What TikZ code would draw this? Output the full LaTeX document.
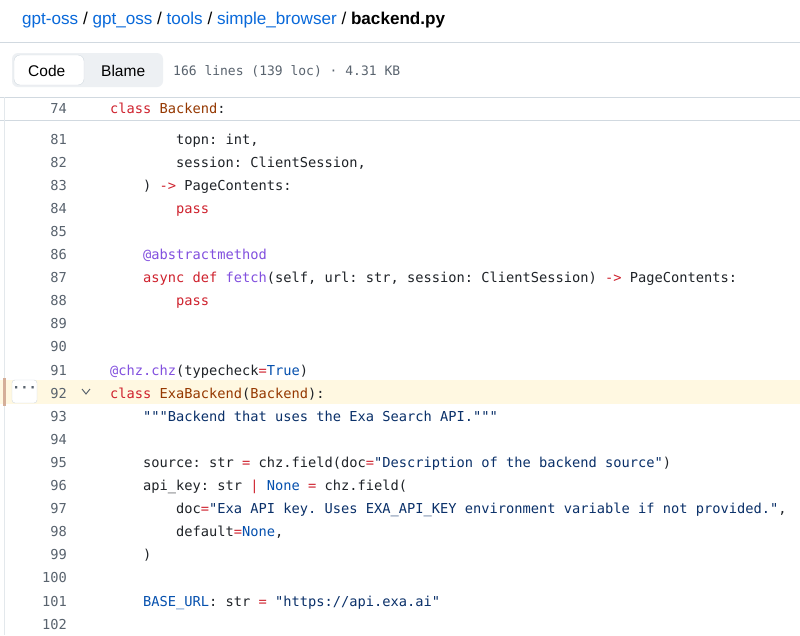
\documentclass[tikz,border=0pt]{standalone}
\usepackage{fontspec}
\setmainfont{Liberation Sans}
\setmonofont{DejaVu Sans Mono}
\usetikzlibrary{positioning}
\definecolor{kw}{HTML}{CF222E}
\definecolor{ent}{HTML}{953800}
\definecolor{fn}{HTML}{8250DF}
\definecolor{strc}{HTML}{0A3069}
\definecolor{cst}{HTML}{0550AE}
\definecolor{txt}{HTML}{1F2328}
\definecolor{lnum}{HTML}{59636E}
\definecolor{link}{HTML}{0969DA}
\definecolor{hl}{HTML}{FFF8E1}
\definecolor{rule}{HTML}{D1D9E0}
\newcommand{\K}[1]{\textcolor{kw}{#1}}
\newcommand{\E}[1]{\textcolor{ent}{#1}}
\newcommand{\F}[1]{\textcolor{fn}{#1}}
\newcommand{\Sq}[1]{\textcolor{strc}{#1}}
\newcommand{\C}[1]{\textcolor{cst}{#1}}
\tikzset{
  num/.style={anchor=base east,text=lnum,font=\fontsize{13.7}{15}\ttfamily,inner sep=0pt},
  code/.style={anchor=base west,text=txt,font=\fontsize{13.7}{15}\ttfamily,inner sep=0pt},
  crumb/.style={anchor=base west,inner sep=0pt,font=\fontsize{17.1}{19}\selectfont}
}
\begin{document}
\begin{tikzpicture}[x=1pt,y=-1pt]
\useasboundingbox (0,0) rectangle (800,635);
\fill[white] (0,0) rectangle (800,635);
% header
\node[crumb] (path) at (22,24) {\textcolor{link}{gpt-oss} / \textcolor{link}{gpt\_oss} / \textcolor{link}{tools} / \textcolor{link}{simple\_browser} / \textbf{backend.py}};
\draw[rule] (0,42) -- (800,42);
\fill[rule!40,rounded corners=6pt] (12,53) rectangle (163,87);
\draw[rule,fill=white,rounded corners=6pt] (14,55) rectangle (84,85);
\node[crumb,font=\fontsize{15.5}{17}\selectfont] (code) at (28,76) {Code};
\node[crumb,font=\fontsize{15.5}{17}\selectfont] (blame) at (101,76) {Blame};
\node[code,text=lnum,font=\fontsize{13}{15}\ttfamily] (info) at (173,75) {166 lines (139 loc) · 4.31 KB};
\draw[rule] (0,97) -- (800,97);
\draw[rule] (0,120) -- (800,120);
\draw[rule!60] (4,97) -- (4,635);
% highlighted line
\fill[hl] (0,380) rectangle (800,404);
\fill[ent!40] (3,378) rectangle (6,406);
\draw[rule,fill=white,rounded corners=3pt] (12,380) rectangle (37,403);
\node[code,text=lnum,anchor=center] (dots) at (24.5,389) {\bfseries ···};
\draw[lnum,line width=1pt] (82,389) -- (86,394) -- (90,389);
% line numbers
\node[num] (n74) at (67,113) {74};
\foreach \n [count=\i from 0] in {81,...,102}
  \node[num] (n\n) at (67,144+23.1*\i) {\n};
% code
\node[code] (c74) at (110,113) {\K{class} \E{Backend}:};
\node[code] (c81) at (176,144) {topn: int,};
\node[code] (c82) at (176,167.1) {session: ClientSession,};
\node[code] (c83) at (143,190.2) {) \K{->} PageContents:};
\node[code] (c84) at (176,213.3) {\K{pass}};
\node[code] (c86) at (143,259.5) {\F{@abstractmethod}};
\node[code] (c87) at (143,282.6) {\K{async def} \F{fetch}(self, url: str, session: ClientSession) \K{->} PageContents:};
\node[code] (c88) at (176,305.7) {\K{pass}};
\node[code] (c91) at (110,375) {\F{@chz.chz}(typecheck\K{=}\C{True})};
\node[code] (c92) at (110,398.1) {\K{class} \E{ExaBackend}(\E{Backend}):};
\node[code] (c93) at (143,421.2) {\Sq{"""Backend that uses the Exa Search API."""}};
\node[code] (c95) at (143,467.4) {source: str \K{=} chz.field(doc\K{=}\Sq{"Description of the backend source"})};
\node[code] (c96) at (143,490.5) {api\_key: str \K{|} \C{None} \K{=} chz.field(};
\node[code] (c97) at (176,513.6) {doc\K{=}\Sq{"Exa API key. Uses EXA\_API\_KEY environment variable if not provided."},};
\node[code] (c98) at (176,536.7) {default\K{=}\C{None},};
\node[code] (c99) at (143,559.8) {)};
\node[code] (c101) at (143,606) {\C{BASE\_URL}: str \K{=} \Sq{"https://api.exa.ai"}};
\end{tikzpicture}
\end{document}
